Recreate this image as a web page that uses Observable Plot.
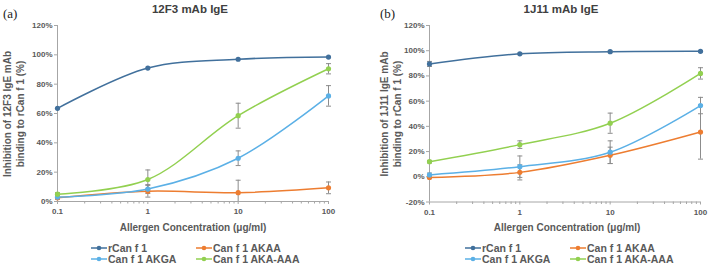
<!DOCTYPE html>
<html>
<head>
<meta charset="utf-8">
<script src="https://cdn.jsdelivr.net/npm/d3@7"></script>
<script src="https://cdn.jsdelivr.net/npm/@observablehq/plot@0.6"></script>
<style>
  html, body { margin: 0; padding: 0; background: #fff; }
  #wrap { position: relative; width: 709px; height: 270px; overflow: hidden; font-family: "Liberation Sans", Arial, sans-serif; }
  #wrap svg.plot { position: absolute; top: 0; overflow: visible; }
  .t { position: absolute; white-space: nowrap; font-weight: bold; color: #595959; }
  .title { font-size: 11.5px; color: #404040; transform: translate(-50%, -50%); }
  .tag { font-family: "Liberation Serif", "Times New Roman", serif; font-weight: normal; font-size: 13px; color: #222; transform: translateY(-50%); }
  .xt { font-size: 10px; transform: translate(-50%, -50%); }
  .yt { font-size: 10px; line-height: 13px; text-align: center; transform: translate(-50%, -50%) rotate(-90deg); }
  .leg { position: absolute; display: flex; align-items: center; font-size: 10.5px; font-weight: bold; color: #595959; transform: translateY(-50%); white-space: nowrap; }
  .leg svg { margin-right: 1px; }
</style>
</head>
<body>
<div id="wrap"></div>
<script>
// ---------- data ----------
const concentrations = [0.1, 1, 10, 100];
const seriesNames = ["rCan f 1", "Can f 1 AKAA", "Can f 1 AKGA", "Can f 1 AKA-AAA"];
const seriesColors = ["#41709C", "#ED7D31", "#5BB0E6", "#92D050"];

// Panel (a) 12F3 mAb IgE : mean inhibition (%) and error
const a_rCan   = [63.5, 91, 97, 98.5];
const a_AKAA   = [2.5, 7, 6, 9.3];
const a_AKGA   = [3, 8.5, 29.5, 72];
const a_AKAAAA = [5, 15, 58.5, 90.5];
const a_rCanErr   = [0, 0, 0, 0];
const a_AKAAErr   = [1, 4, 8.5, 4];
const a_AKGAErr   = [1, 3, 5, 7];
const a_AKAAAAErr = [1, 6.5, 8.5, 3.5];

// Panel (b) 1J11 mAb IgE
const b_rCan   = [89.5, 97.5, 99.2, 99.5];
const b_AKAA   = [-0.5, 3.5, 17, 35.5];
const b_AKGA   = [1.5, 8, 19.5, 56.5];
const b_AKAAAA = [12, 25.5, 42.5, 82];
const b_rCanErr   = [2, 0.5, 0.5, 0.5];
const b_AKAAErr   = [1, 6, 6.5, 21.5];
const b_AKGAErr   = [1.5, 8.5, 9, 6.5];
const b_AKAAAAErr = [1, 3, 8, 4.5];

const yTicksA = [0, 20, 40, 60, 80, 100, 120];
const yTicksB = [-20, 0, 20, 40, 60, 80, 100, 120];
const xTicks = [0.1, 1, 10, 100];
const xTickLabels = ["0.1", "1", "10", "100"];
const xMinorTicks = [0.2, 0.3, 0.4, 0.5, 0.6, 0.7, 0.8, 0.9, 2, 3, 4, 5, 6, 7, 8, 9, 20, 30, 40, 50, 60, 70, 80, 90];

const panelTitles = ["12F3 mAb IgE", "1J11 mAb IgE"];
const panelTags = ["(a)", "(b)"];
const yTitles = [["Inhibition of 12F3 IgE mAb", "binding to rCan f 1 (%)"], ["Inhibition of 1J11 IgE mAb", "binding to rCan f 1 (%)"]];
const xTitle = "Allergen Concentration (\u03bcg/ml)";

// ---------- build ----------
function rowsFor(vals, errs) {
  const rows = [];
  vals.forEach((v, i) => v.forEach((y, j) => rows.push({series: seriesNames[i], x: concentrations[j], y, err: errs[i][j]})));
  return rows;
}
const rowsA = rowsFor([a_rCan, a_AKAA, a_AKGA, a_AKAAAA], [a_rCanErr, a_AKAAErr, a_AKGAErr, a_AKAAAAErr]);
const rowsB = rowsFor([b_rCan, b_AKAA, b_AKGA, b_AKAAAA], [b_rCanErr, b_AKAAErr, b_AKGAErr, b_AKAAAAErr]);

const capSymbol = { draw(ctx, size) { ctx.moveTo(-2.5, 0); ctx.lineTo(2.5, 0); } };
const axisGray = "#a6a6a6";
const labelGray = "#595959";
const errGray = "#8c8c8c";

function panel(rows, yTicks, m) {
  const ydom = [yTicks[0], yTicks[yTicks.length - 1]];
  const errRows = rows.filter(d => d.err > 0);
  const lo = d => Math.max(d.y - d.err, ydom[0]);
  const hi = d => d.y + d.err;
  return Plot.plot({
    width: 354, height: 270,
    marginLeft: m.left, marginRight: m.right, marginTop: 25, marginBottom: m.bottom,
    x: {type: "log", domain: [0.1, 100]},
    y: {domain: ydom},
    color: {domain: seriesNames, range: seriesColors},
    style: {fontFamily: "'Liberation Sans', Arial, sans-serif", background: "transparent", overflow: "visible"},
    marks: [
      Plot.axisY({ticks: yTicks, tickSize: 3, tickPadding: 2, tickFormat: d => d + "%", label: null,
        stroke: axisGray, fill: labelGray, fontSize: 8, fontWeight: "bold"}),
      Plot.axisX({ticks: xTicks, tickSize: 3, tickPadding: 4, tickFormat: d => xTickLabels[xTicks.indexOf(d)], label: null,
        stroke: axisGray, fill: labelGray, fontSize: 8, fontWeight: "bold"}),
      Plot.axisX({ticks: xMinorTicks, tickSize: 2.5, tickFormat: () => "", label: null, stroke: axisGray}),
      Plot.ruleX([0.1], {stroke: axisGray, strokeWidth: 1}),
      Plot.ruleY([ydom[0]], {stroke: axisGray, strokeWidth: 1}),
      Plot.line(rows, {x: "x", y: "y", z: "series", stroke: "series", curve: "catmull-rom", strokeWidth: 1.5}),
      Plot.ruleX(errRows, {x: "x", y1: lo, y2: hi, stroke: errGray, strokeWidth: 1}),
      Plot.dot(errRows.filter(d => d.y - d.err > ydom[0]), {x: "x", y: lo, symbol: capSymbol, stroke: errGray, strokeWidth: 1}),
      Plot.dot(errRows, {x: "x", y: hi, symbol: capSymbol, stroke: errGray, strokeWidth: 1}),
      Plot.dot(rows, {x: "x", y: "y", fill: "series", r: 2.6})
    ]
  });
}

const wrap = document.getElementById("wrap");
const pa = panel(rowsA, yTicksA, {left: 57, right: 26, bottom: 69});
pa.classList.add("plot"); pa.style.left = "0px";
wrap.appendChild(pa);
const pb = panel(rowsB, yTicksB, {left: 74, right: 9, bottom: 68.5});
pb.classList.add("plot"); pb.style.left = "355px";
wrap.appendChild(pb);

function addText(cls, text, x, y) {
  const d = document.createElement("div");
  d.className = "t " + cls;
  d.textContent = text;
  d.style.left = x + "px"; d.style.top = y + "px";
  wrap.appendChild(d);
  return d;
}
// titles & tags
addText("title", panelTitles[0], 190, 9);
addText("title", panelTitles[1], 561, 9);
addText("tag", panelTags[0], 3, 14);
addText("tag", panelTags[1], 380, 14);
// x titles
addText("xt", xTitle, 193, 227);
addText("xt", xTitle, 567, 227);
// y titles
const ya = addText("yt", "", 14, 114); ya.innerHTML = yTitles[0].join("<br>");
const yb = addText("yt", "", 391, 114); yb.innerHTML = yTitles[1].join("<br>");

// legends
function legendItem(i, x, y) {
  const d = document.createElement("div");
  d.className = "leg";
  d.style.left = x + "px"; d.style.top = y + "px";
  const c = seriesColors[i];
  d.innerHTML = `<svg width="16" height="6"><line x1="0" y1="3" x2="16" y2="3" stroke="${c}" stroke-width="1.5"/><circle cx="8" cy="3" r="2.3" fill="${c}"/></svg>`;
  const s = document.createElement("span"); s.textContent = seriesNames[i];
  d.appendChild(s);
  wrap.appendChild(d);
}
const legendCols = [[91, 196], [465, 570]];
const legendRows = [248, 258.5];
legendCols.forEach(cols => {
  legendItem(0, cols[0], legendRows[0]);
  legendItem(1, cols[1], legendRows[0]);
  legendItem(2, cols[0], legendRows[1]);
  legendItem(3, cols[1], legendRows[1]);
});
</script>
</body>
</html>
